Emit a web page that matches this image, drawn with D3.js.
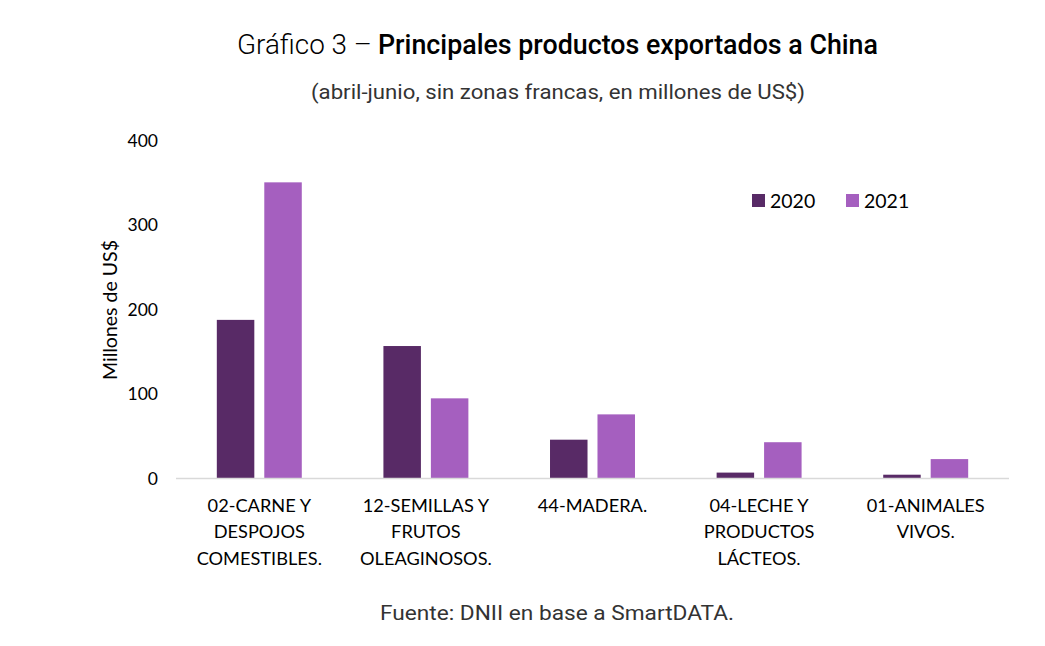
<!DOCTYPE html>
<html><head><meta charset="utf-8">
<script src="https://cdn.jsdelivr.net/npm/d3@7"></script>
<style>body{margin:0;background:#fff}svg{display:block}</style>
</head><body>
<svg id="c" width="1045" height="646"></svg>
<script>
const categories = [
  ["02-CARNE Y","DESPOJOS","COMESTIBLES."],
  ["12-SEMILLAS Y","FRUTOS","OLEAGINOSOS."],
  ["44-MADERA."],
  ["04-LECHE Y","PRODUCTOS","LÁCTEOS."],
  ["01-ANIMALES","VIVOS."]
];
const seriesNames = ["2020","2021"];
const values2020 = [188, 157, 46, 7, 4.5];
const values2021 = [351, 95, 76, 43, 23];
const yTicks = [0,100,200,300,400];
const colors = ["#582a66","#a55fbf"];

const svg = d3.select("#c");
const m = {left:176, right:1009, top:141, bottom:478.5};
const x0 = d3.scaleBand().domain(d3.range(categories.length)).range([m.left,m.right]).paddingInner(0.49).paddingOuter(0.245);
const x1 = d3.scaleBand().domain(seriesNames).range([0,x0.bandwidth()]).paddingInner(0.21);
const y = d3.scaleLinear().domain([0,400]).range([m.bottom,m.top]);
const series = [values2020, values2021];

const calib = "Lato, 'Open Sans', sans-serif";

// bars
categories.forEach((c,i)=>{
  seriesNames.forEach((s,j)=>{
    svg.append("rect")
      .attr("x", x0(i)+x1(s)).attr("width", x1.bandwidth())
      .attr("y", y(series[j][i])).attr("height", y(0)-y(series[j][i]))
      .attr("fill", colors[j]);
  });
});

// x axis line
svg.append("line").attr("x1",m.left).attr("x2",m.right).attr("y1",y(0)).attr("y2",y(0))
  .attr("stroke","#d9d9d9").attr("stroke-width",1.5);

// y ticks
const yAxis = d3.axisLeft(y).tickValues(yTicks).tickSize(0).tickPadding(0);
const ga = svg.append("g").attr("transform","translate(158,0)").call(yAxis);
ga.select(".domain").remove();
ga.selectAll("text").attr("font-family",calib).attr("font-size",17.5).attr("fill","#000");

// category labels
categories.forEach((lines,i)=>{
  const t = svg.append("text").attr("text-anchor","middle").attr("font-family",calib)
    .attr("font-size",18.2).attr("fill","#000");
  lines.forEach((l,k)=>{
    t.append("tspan").attr("x", x0(i)+x0.bandwidth()/2).attr("y", 512+k*26.3).text(l);
  });
});

// y axis title
svg.append("text").attr("transform","translate(117,310) rotate(-90)").attr("text-anchor","middle")
  .attr("font-family",calib).attr("font-size",19.5).attr("fill","#000").text("Millones de US$");

// legend
const lg = [{x:752},{x:846}];
seriesNames.forEach((s,j)=>{
  svg.append("rect").attr("x",lg[j].x).attr("y",194).attr("width",13).attr("height",13).attr("fill",colors[j]);
  svg.append("text").attr("x",lg[j].x+18).attr("y",207.5).attr("font-family",calib).attr("font-size",19.5)
    .attr("fill","#000").text(s);
});

// titles
const hf = "Roboto, 'Liberation Sans', sans-serif";
svg.append("text").attr("x",237).attr("y",54).attr("font-family",hf).attr("font-weight",300)
  .attr("font-size",27).attr("fill","#000").attr("textLength",135).attr("lengthAdjust","spacingAndGlyphs").text("Gráfico 3 –");
svg.append("text").attr("x",378).attr("y",54).attr("font-family",hf).attr("font-weight",500)
  .attr("font-size",27).attr("fill","#000").attr("textLength",500).attr("lengthAdjust","spacingAndGlyphs").text("Principales productos exportados a China");
svg.append("text").attr("x",311).attr("y",99).attr("font-family",hf).attr("font-weight",400)
  .attr("font-size",20).attr("fill","#333").attr("textLength",494).attr("lengthAdjust","spacingAndGlyphs").text("(abril-junio, sin zonas francas, en millones de US$)");
svg.append("text").attr("x",380).attr("y",620).attr("font-family",hf).attr("font-weight",400)
  .attr("font-size",20).attr("fill","#333").attr("textLength",354).attr("lengthAdjust","spacingAndGlyphs").text("Fuente: DNII en base a SmartDATA.");
</script>
</body></html>
